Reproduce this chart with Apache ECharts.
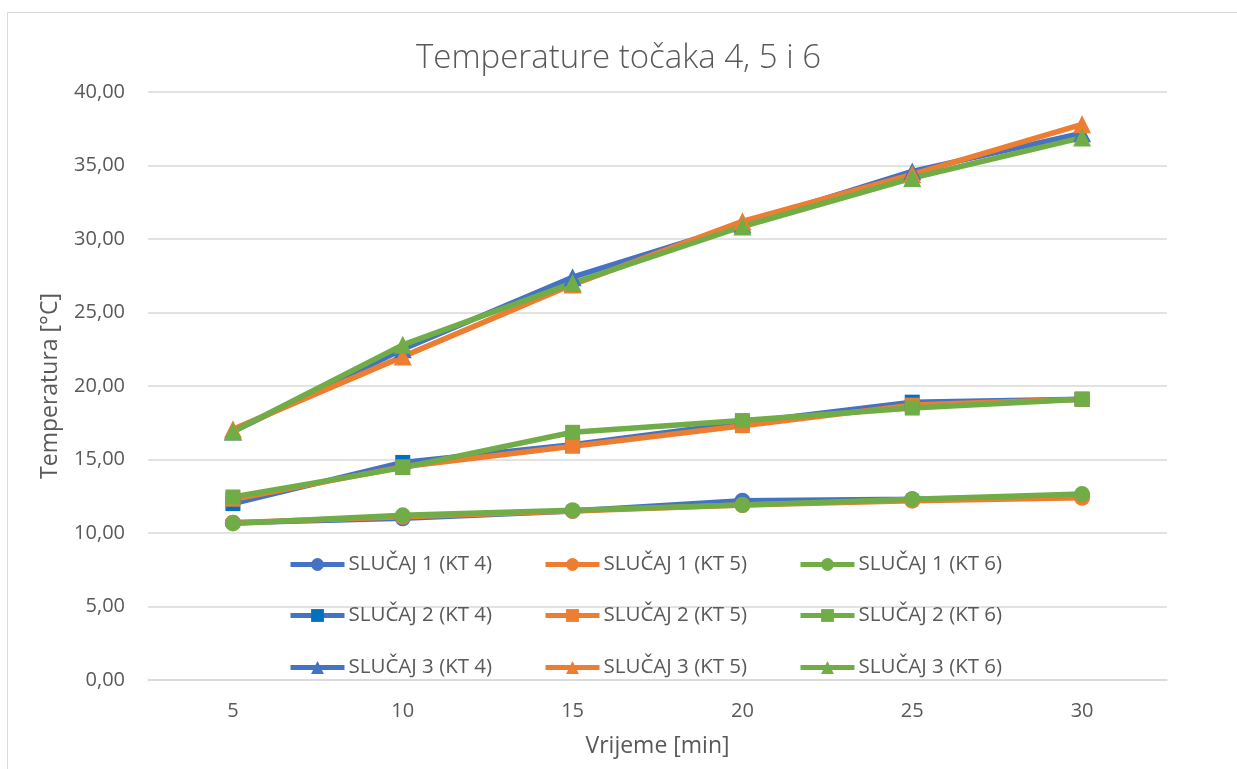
<!DOCTYPE html>
<html>
<head>
<meta charset="utf-8">
<script src="https://cdn.jsdelivr.net/npm/echarts@6/dist/echarts.min.js"></script>
<style>
  html, body { margin: 0; padding: 0; background: #fff; }
  #chart { width: 1237px; height: 769px; }
</style>
</head>
<body>
<div id="chart"></div>
<script>
// Time points (minutes)
const categories = ['5', '10', '15', '20', '25', '30'];

// SLUČAJ 1
const s1kt4 = [10.70, 11.00, 11.50, 12.20, 12.30, 12.50];
const s1kt5 = [10.70, 11.10, 11.50, 11.90, 12.20, 12.40];
const s1kt6 = [10.65, 11.20, 11.55, 11.90, 12.30, 12.65];
// SLUČAJ 2
const s2kt4 = [12.00, 14.80, 16.00, 17.50, 18.90, 19.10];
const s2kt5 = [12.30, 14.50, 15.90, 17.30, 18.70, 19.10];
const s2kt6 = [12.45, 14.45, 16.85, 17.65, 18.50, 19.10];
// SLUČAJ 3
const s3kt4 = [16.90, 22.50, 27.40, 31.00, 34.60, 37.20];
const s3kt5 = [17.05, 22.00, 26.90, 31.20, 34.40, 37.80];
const s3kt6 = [16.90, 22.80, 27.00, 30.85, 34.15, 36.90];

const seriesNames = [
  ['SLUČAJ 1 (KT 4)', 'SLUČAJ 1 (KT 5)', 'SLUČAJ 1 (KT 6)'],
  ['SLUČAJ 2 (KT 4)', 'SLUČAJ 2 (KT 5)', 'SLUČAJ 2 (KT 6)'],
  ['SLUČAJ 3 (KT 4)', 'SLUČAJ 3 (KT 5)', 'SLUČAJ 3 (KT 6)']
];
const seriesData = [
  [s1kt4, s1kt5, s1kt6],
  [s2kt4, s2kt5, s2kt6],
  [s3kt4, s3kt5, s3kt6]
];

const lineColors = ['#4472C4', '#ED7D31', '#70AD47'];
const markerColors = [
  ['#4472C4', '#ED7D31', '#70AD47'],
  ['#0070C0', '#ED7D31', '#70AD47'],
  ['#4472C4', '#ED7D31', '#70AD47']
];
const symbols = ['circle', 'rect', 'triangle'];
const symbolSizes = [16, 15, 18];

const FONT = '"Open Sans", "Noto Sans", sans-serif';
const TEXT = '#595959';

const series = [];
for (let g = 0; g < 3; g++) {
  for (let k = 0; k < 3; k++) {
    series.push({
      name: seriesNames[g][k],
      type: 'line',
      data: seriesData[g][k],
      symbol: symbols[g],
      symbolSize: symbolSizes[g],
      showAllSymbol: true,
      lineStyle: { color: lineColors[k], width: 5.5 },
      itemStyle: { color: markerColors[g][k] },
      emphasis: { disabled: true },
      animation: false
    });
  }
}

// One legend per entry, laid out as a 3 x 3 block inside the plot
const legendTops = [554, 605, 657];
const legendLefts = [288, 543, 798];
const legends = [];
for (let g = 0; g < 3; g++) {
  for (let k = 0; k < 3; k++) {
    legends.push({
      top: legendTops[g],
      left: legendLefts[k],
      padding: 0,
      orient: 'horizontal',
      data: [seriesNames[g][k]],
      itemWidth: 54,
      itemHeight: 16,
      itemGap: 0,
      lineStyle: { width: 5 },
      textStyle: { color: TEXT, fontSize: 20.5, fontFamily: FONT, padding: [0, 0, 0, -1] },
      selectedMode: false
    });
  }
}

const chart = echarts.init(document.getElementById('chart'));
chart.setOption({
  backgroundColor: '#fff',
  animation: false,
  title: {
    text: 'Temperature točaka 4, 5 i 6',
    left: 'center',
    top: 37,
    textStyle: { color: TEXT, fontSize: 33, fontWeight: 300, fontFamily: FONT }
  },
  graphic: [{
    type: 'rect',
    shape: { x: 7.5, y: 12.5, width: 1240, height: 770 },
    style: { fill: 'none', stroke: '#d9d9d9', lineWidth: 1 },
    silent: true
  }],
  legend: legends,
  grid: { left: 148, right: 70, top: 92, bottom: 89, containLabel: false },
  xAxis: {
    type: 'category',
    data: categories,
    boundaryGap: true,
    name: 'Vrijeme [min]',
    nameLocation: 'middle',
    nameGap: 55,
    nameTextStyle: { color: TEXT, fontSize: 23, fontFamily: FONT },
    axisLine: { show: true, lineStyle: { color: '#d9d9d9', width: 1.5 } },
    axisTick: { show: false },
    axisLabel: { color: TEXT, fontSize: 20, fontFamily: FONT, margin: 21 }
  },
  yAxis: {
    type: 'value',
    min: 0,
    max: 40,
    interval: 5,
    name: 'Temperatura [°C]',
    nameLocation: 'middle',
    nameGap: 86,
    nameRotate: 90,
    nameTextStyle: { color: TEXT, fontSize: 23, fontFamily: FONT },
    axisLine: { show: false },
    axisTick: { show: false },
    splitLine: { lineStyle: { color: '#d9d9d9', width: 1.5 } },
    axisLabel: {
      color: TEXT, fontSize: 20, fontFamily: FONT, margin: 23,
      formatter: v => v.toFixed(2).replace('.', ',')
    }
  },
  series: series
});
</script>
</body>
</html>
